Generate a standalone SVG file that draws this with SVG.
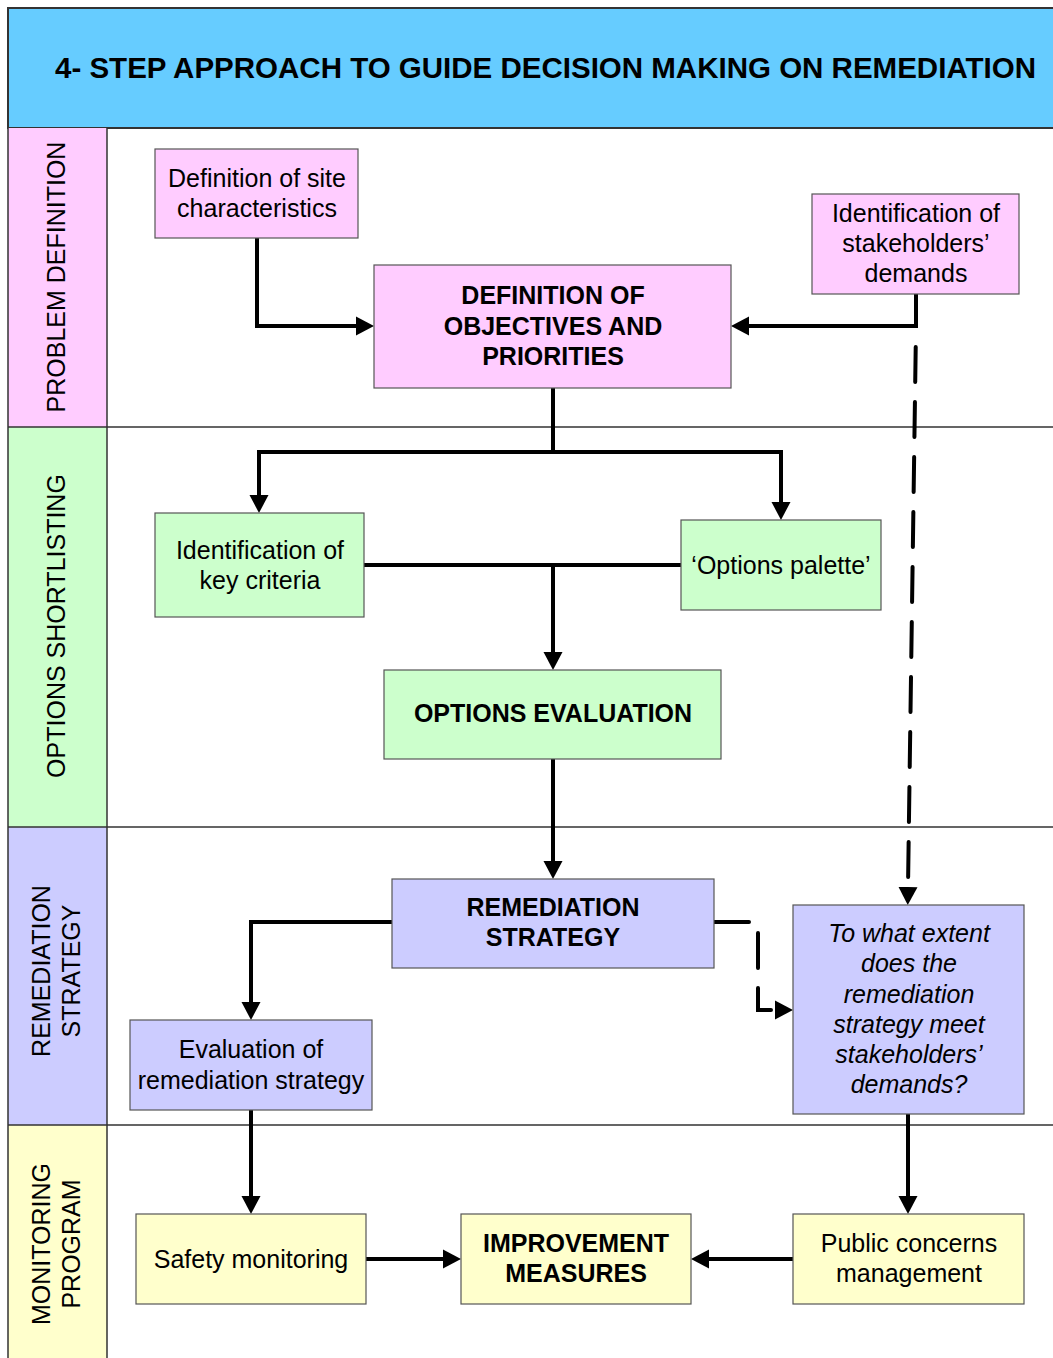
<svg xmlns="http://www.w3.org/2000/svg" width="1053" height="1358" viewBox="0 0 1053 1358">
  <style>
    .box { stroke: #555; stroke-width: 1.2; }
    .pink { fill: #FFCCFF; }
    .green { fill: #CCFFCC; }
    .blue { fill: #CCCCFF; }
    .yellow { fill: #FFFFCC; }
    .t { font-family: "Liberation Sans", Arial, sans-serif; font-size: 25px; fill: #000; text-anchor: middle; }
    .b { font-weight: bold; }
    .i { font-style: italic; }
    .lane { font-family: "Liberation Sans", Arial, sans-serif; font-size: 25px; fill: #000; text-anchor: middle; }
    .sep { stroke: #333; stroke-width: 1.5; fill: none; }
    .conn { fill: none; stroke: #000; stroke-width: 4; stroke-linejoin: miter; }
    .dash { fill: none; stroke: #000; stroke-width: 4; stroke-dasharray: 35 20; stroke-linecap: round; }
  </style>
  <defs>
    <marker id="arrow" markerUnits="userSpaceOnUse" markerWidth="18" markerHeight="20" refX="0" refY="10" orient="auto">
      <path d="M0,0.5 L18,10 L0,19.5 z" fill="#000" stroke="none"/>
    </marker>
  </defs>

  <rect x="0" y="0" width="1053" height="1358" fill="#fff"/>

  <!-- title band -->
  <g id="title">
    <rect x="8" y="8" width="1050" height="120" fill="#66CCFF" stroke="#333" stroke-width="2"/>
    <text x="55" y="77.5" font-family="Liberation Sans, Arial, sans-serif" font-size="29" font-weight="bold" textLength="981" lengthAdjust="spacingAndGlyphs">4- STEP APPROACH TO GUIDE DECISION MAKING ON REMEDIATION</text>
  </g>

  <!-- swimlanes -->
  <g id="lanes">
    <rect x="8" y="128" width="99" height="299" class="pink"/>
    <rect x="8" y="427" width="99" height="400" class="green"/>
    <rect x="8" y="827" width="99" height="298" class="blue"/>
    <rect x="8" y="1125" width="99" height="240" class="yellow"/>
    <path class="sep" d="M8,128 V1358 M107,128 V1358 M8,427 H1053 M8,827 H1053 M8,1125 H1053"/>
    <text class="lane" transform="translate(65,277) rotate(-90)">PROBLEM DEFINITION</text>
    <text class="lane" transform="translate(65,626) rotate(-90)">OPTIONS SHORTLISTING</text>
    <text class="lane" transform="translate(50,971) rotate(-90)">REMEDIATION</text>
    <text class="lane" transform="translate(80,971) rotate(-90)">STRATEGY</text>
    <text class="lane" transform="translate(50,1244) rotate(-90)">MONITORING</text>
    <text class="lane" transform="translate(80,1244) rotate(-90)">PROGRAM</text>
  </g>

  <!-- connectors -->
  <g id="connectors">
    <path class="conn" d="M257,238 V326 H356" marker-end="url(#arrow)"/>
    <path class="conn" d="M916,294 V326 H749" marker-end="url(#arrow)"/>
    <path class="conn" d="M553,388 V452"/>
    <path class="conn" d="M553,452 H259 V495" marker-end="url(#arrow)"/>
    <path class="conn" d="M553,452 H781 V502" marker-end="url(#arrow)"/>
    <path class="conn" d="M364,565 H681"/>
    <path class="conn" d="M553,565 V652" marker-end="url(#arrow)"/>
    <path class="conn" d="M553,759 V861" marker-end="url(#arrow)"/>
    <path class="conn" d="M392,922 H251 V1002" marker-end="url(#arrow)"/>
    <path class="conn" d="M251,1110 V1196" marker-end="url(#arrow)"/>
    <path class="conn" d="M366,1259 H443" marker-end="url(#arrow)"/>
    <path class="conn" d="M793,1259 H709" marker-end="url(#arrow)"/>
    <path class="conn" d="M908,1114 V1196" marker-end="url(#arrow)"/>
    <path class="dash" d="M916,327 L908,887" stroke-dashoffset="35" marker-end="url(#arrow)"/>
    <path class="dash" d="M714,922 H758 V1010 H775" marker-end="url(#arrow)"/>
  </g>

  <!-- nodes -->
  <g id="site-characteristics">
    <rect x="155" y="149" width="203" height="89" class="box pink"/>
    <text class="t" x="257" y="187">Definition of site</text>
    <text class="t" x="257" y="217">characteristics</text>
  </g>
  <g id="objectives">
    <rect x="374" y="265" width="357" height="123" class="box pink"/>
    <text class="t b" x="553" y="304">DEFINITION OF</text>
    <text class="t b" x="553" y="335">OBJECTIVES AND</text>
    <text class="t b" x="553" y="365">PRIORITIES</text>
  </g>
  <g id="stakeholders-demands">
    <rect x="812" y="194" width="207" height="100" class="box pink"/>
    <text class="t" x="916" y="222">Identification of</text>
    <text class="t" x="916" y="252">stakeholders’</text>
    <text class="t" x="916" y="282">demands</text>
  </g>
  <g id="key-criteria">
    <rect x="155" y="513" width="209" height="104" class="box green"/>
    <text class="t" x="260" y="559">Identification of</text>
    <text class="t" x="260" y="589">key criteria</text>
  </g>
  <g id="options-palette">
    <rect x="681" y="520" width="200" height="90" class="box green"/>
    <text class="t" x="781" y="574">‘Options palette’</text>
  </g>
  <g id="options-evaluation">
    <rect x="384" y="670" width="337" height="89" class="box green"/>
    <text class="t b" x="553" y="722">OPTIONS EVALUATION</text>
  </g>
  <g id="remediation-strategy">
    <rect x="392" y="879" width="322" height="89" class="box blue"/>
    <text class="t b" x="553" y="916">REMEDIATION</text>
    <text class="t b" x="553" y="946">STRATEGY</text>
  </g>
  <g id="stakeholder-question">
    <rect x="793" y="905" width="231" height="209" class="box blue"/>
    <text class="t i" x="909" y="942">To what extent</text>
    <text class="t i" x="909" y="972">does the</text>
    <text class="t i" x="909" y="1003">remediation</text>
    <text class="t i" x="909" y="1033">strategy meet</text>
    <text class="t i" x="909" y="1063">stakeholders’</text>
    <text class="t i" x="909" y="1093">demands?</text>
  </g>
  <g id="strategy-evaluation">
    <rect x="130" y="1020" width="242" height="90" class="box blue"/>
    <text class="t" x="251" y="1058">Evaluation of</text>
    <text class="t" x="251" y="1089">remediation strategy</text>
  </g>
  <g id="safety-monitoring">
    <rect x="136" y="1214" width="230" height="90" class="box yellow"/>
    <text class="t" x="251" y="1268">Safety monitoring</text>
  </g>
  <g id="improvement-measures">
    <rect x="461" y="1214" width="230" height="90" class="box yellow"/>
    <text class="t b" x="576" y="1252">IMPROVEMENT</text>
    <text class="t b" x="576" y="1282">MEASURES</text>
  </g>
  <g id="public-concerns">
    <rect x="793" y="1214" width="231" height="90" class="box yellow"/>
    <text class="t" x="909" y="1252">Public concerns</text>
    <text class="t" x="909" y="1282">management</text>
  </g>
</svg>
